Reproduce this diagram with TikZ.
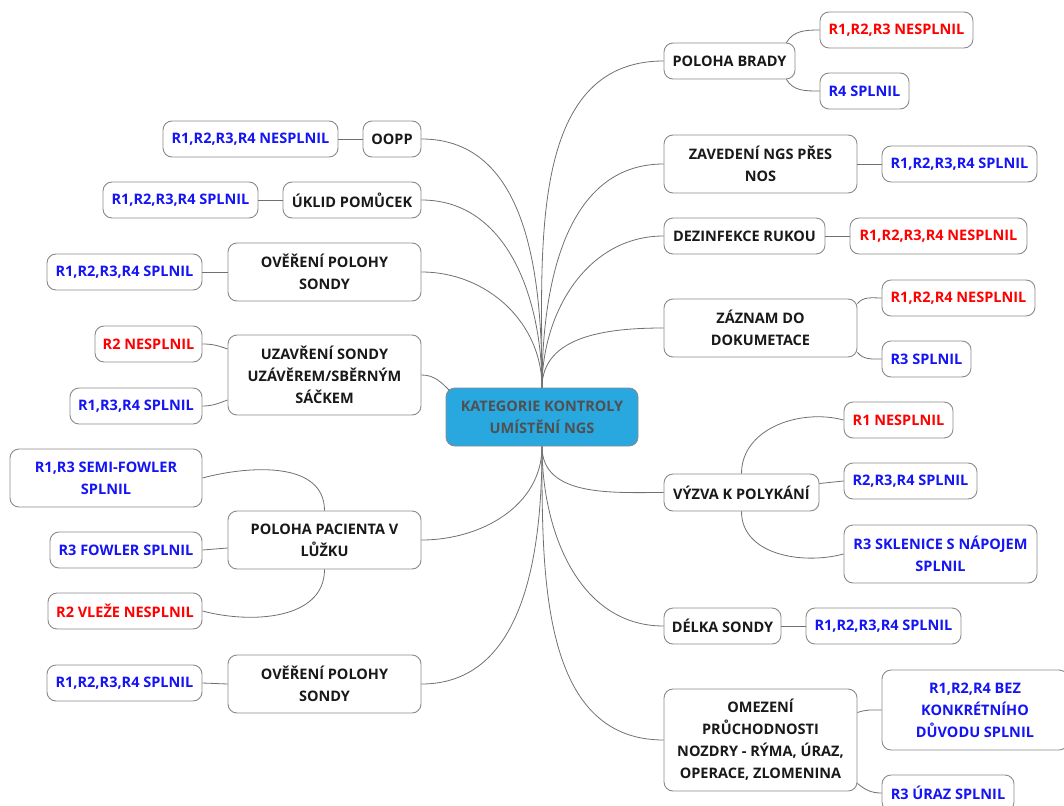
\documentclass[tikz,border=0pt]{standalone}
\usepackage{fontspec}
\setmainfont{Open Sans}
\definecolor{boxgray}{HTML}{8A8A8A}
\definecolor{linegray}{HTML}{707070}
\definecolor{rootfill}{HTML}{29A8E0}
\definecolor{roottext}{HTML}{505050}
\definecolor{myred}{HTML}{FF0000}
\definecolor{myblue}{HTML}{1414F5}
\newcommand{\mmfont}{\fontsize{14.5}{22}\selectfont\bfseries}
\tikzset{
  mbox/.style={draw=boxgray, line width=0.9pt, rounded corners=9pt, fill=white,
    align=center, font=\mmfont, inner sep=0pt, text=black!90},
  redbox/.style={mbox, text=myred},
  bluebox/.style={mbox, text=myblue},
  conn/.style={draw=linegray, line width=0.8pt},
}
\begin{document}
\begin{tikzpicture}[x=1pt,y=1pt]
\useasboundingbox (0,0) rectangle (1064,-805);
% root
\node[mbox, fill=rootfill, text=roottext, minimum width=192, minimum height=58] (root) at (542,-417) {KATEGORIE KONTROLY\\UMÍSTĚNÍ NGS};
% right side
\node[mbox, minimum width=131, minimum height=36] (brady) at (729.5,-61) {POLOHA BRADY};
\node[redbox, minimum width=153, minimum height=36] (bradyA) at (896.5,-30) {R1,R2,R3 NESPLNIL};
\node[bluebox, minimum width=89, minimum height=36] (bradyB) at (864.5,-91) {R4 SPLNIL};
\node[mbox, minimum width=193, minimum height=58] (zaved) at (760.5,-164) {ZAVEDENÍ NGS PŘES\\NOS};
\node[bluebox, minimum width=155, minimum height=36] (zavedA) at (959.5,-164) {R1,R2,R3,R4 SPLNIL};
\node[mbox, minimum width=161, minimum height=36] (dezinf) at (744.5,-236) {DEZINFEKCE RUKOU};
\node[redbox, minimum width=177, minimum height=36] (dezinfA) at (938.5,-236) {R1,R2,R3,R4 NESPLNIL};
\node[mbox, minimum width=193, minimum height=58] (zaznam) at (760.5,-328) {ZÁZNAM DO\\DOKUMETACE};
\node[redbox, minimum width=153, minimum height=36] (zaznamA) at (958.5,-298) {R1,R2,R4 NESPLNIL};
\node[bluebox, minimum width=89, minimum height=36] (zaznamB) at (926.5,-359) {R3 SPLNIL};
\node[mbox, minimum width=155, minimum height=37] (vyzva) at (741.5,-492.5) {VÝZVA K POLYKÁNÍ};
\node[redbox, minimum width=109, minimum height=36] (vyzvaA) at (898.5,-420) {R1 NESPLNIL};
\node[bluebox, minimum width=133, minimum height=36] (vyzvaB) at (910.5,-481) {R2,R3,R4 SPLNIL};
\node[bluebox, minimum width=193, minimum height=58] (vyzvaC) at (940.5,-554) {R3 SKLENICE S NÁPOJEM\\SPLNIL};
\node[mbox, minimum width=117, minimum height=36] (delka) at (722.5,-626) {DÉLKA SONDY};
\node[bluebox, minimum width=155, minimum height=36] (delkaA) at (883.5,-626) {R1,R2,R3,R4 SPLNIL};
\node[mbox, minimum width=193, minimum height=102] (omez) at (760.5,-740) {OMEZENÍ\\PRŮCHODNOSTI\\NOZDRY - RÝMA, ÚRAZ,\\OPERACE, ZLOMENINA};
\node[bluebox, minimum width=186, minimum height=80] (omezA) at (975,-710) {R1,R2,R4 BEZ\\KONKRÉTNÍHO\\DŮVODU SPLNIL};
\node[bluebox, minimum width=132, minimum height=36] (omezB) at (948,-793) {R3 ÚRAZ SPLNIL};
% left side
\node[mbox, minimum width=58, minimum height=36] (oopp) at (392,-139) {OOPP};
\node[bluebox, minimum width=175, minimum height=36] (ooppA) at (250.5,-139) {R1,R2,R3,R4 NESPLNIL};
\node[mbox, minimum width=138, minimum height=36] (uklid) at (352,-200) {ÚKLID POMŮCEK};
\node[bluebox, minimum width=155, minimum height=36] (uklidA) at (180.5,-200) {R1,R2,R3,R4 SPLNIL};
\node[mbox, minimum width=193, minimum height=58] (over1) at (324.5,-272) {OVĚŘENÍ POLOHY\\SONDY};
\node[bluebox, minimum width=155, minimum height=36] (over1A) at (124.5,-272) {R1,R2,R3,R4 SPLNIL};
\node[mbox, minimum width=193, minimum height=80] (uzav) at (324.5,-375) {UZAVŘENÍ SONDY\\UZÁVĚREM/SBĚRNÝM\\SÁČKEM};
\node[redbox, minimum width=107, minimum height=36] (uzavA) at (148.5,-344) {R2 NESPLNIL};
\node[bluebox, minimum width=132, minimum height=36] (uzavB) at (136,-406) {R1,R3,R4 SPLNIL};
\node[mbox, minimum width=193, minimum height=58] (polpac) at (324.5,-540) {POLOHA PACIENTA V\\LŮŽKU};
\node[bluebox, minimum width=192, minimum height=58] (polpacA) at (106,-478) {R1,R3 SEMI-FOWLER\\SPLNIL};
\node[bluebox, minimum width=152, minimum height=36] (polpacB) at (126,-550) {R3 FOWLER SPLNIL};
\node[redbox, minimum width=154, minimum height=36] (polpacC) at (125,-611) {R2 VLEŽE NESPLNIL};
\node[mbox, minimum width=193, minimum height=58] (over2) at (324.5,-684) {OVĚŘENÍ POLOHY\\SONDY};
\node[bluebox, minimum width=155, minimum height=36] (over2A) at (124.5,-683) {R1,R2,R3,R4 SPLNIL};
% connectors from root
\draw[conn] (root.north) to[out=90,in=180] (brady.west);
\draw[conn] (root.north) to[out=90,in=180] (zaved.west);
\draw[conn] (root.north) to[out=90,in=180] (dezinf.west);
\draw[conn] (root.north) to[out=90,in=180] (zaznam.west);
\draw[conn] (root.north) to[out=90,in=0] (oopp.east);
\draw[conn] (root.north) to[out=90,in=0] (uklid.east);
\draw[conn] (root.north) to[out=90,in=0] (over1.east);
\draw[conn] (uzav.east) to[out=0,in=135] ([xshift=4pt,yshift=-3pt]root.north west);
\draw[conn] (root.south) to[out=-90,in=180] (vyzva.west);
\draw[conn] (root.south) to[out=-90,in=180] (delka.west);
\draw[conn] (root.south) to[out=-90,in=180] (omez.west);
\draw[conn] (root.south) to[out=-90,in=0] (polpac.east);
\draw[conn] (root.south) to[out=-90,in=0] (over2.east);
% child connectors right
\draw[conn] ([xshift=-9pt]brady.north east) to[out=60,in=180] (bradyA.west);
\draw[conn] ([xshift=-9pt]brady.south east) to[out=-60,in=180] (bradyB.west);
\draw[conn] (zaved.east) -- (zavedA.west);
\draw[conn] (dezinf.east) -- (dezinfA.west);
\draw[conn] ([yshift=-5pt]zaznam.north east) to[out=50,in=180] (zaznamA.west);
\draw[conn] ([yshift=5pt]zaznam.south east) to[out=-50,in=180] (zaznamB.west);
\draw[conn] (vyzva.north) to[out=90,in=165] (vyzvaA.west);
\draw[conn] ([yshift=9pt]vyzva.east) -- (vyzvaB.west);
\draw[conn] (vyzva.south) to[out=-90,in=195] (vyzvaC.west);
\draw[conn] (delka.east) -- (delkaA.west);
\draw[conn] ([yshift=-24pt]omez.north east) to[out=20,in=180] (omezA.west);
\draw[conn] ([yshift=8pt]omez.south east) to[out=-40,in=180] (omezB.west);
% child connectors left
\draw[conn] (oopp.west) -- (ooppA.east);
\draw[conn] (uklid.west) -- (uklidA.east);
\draw[conn] (over1.west) -- (over1A.east);
\draw[conn] ([yshift=26pt]uzav.west) to[out=160,in=0] (uzavA.east);
\draw[conn] ([yshift=-25pt]uzav.west) to[out=200,in=0] (uzavB.east);
\draw[conn] (polpac.north) to[out=90,in=15] (polpacA.east);
\draw[conn] ([yshift=-8pt]polpac.west) -- (polpacB.east);
\draw[conn] (polpac.south) to[out=-90,in=-15] (polpacC.east);
\draw[conn] (over2.west) -- (over2A.east);
\end{tikzpicture}
\end{document}
